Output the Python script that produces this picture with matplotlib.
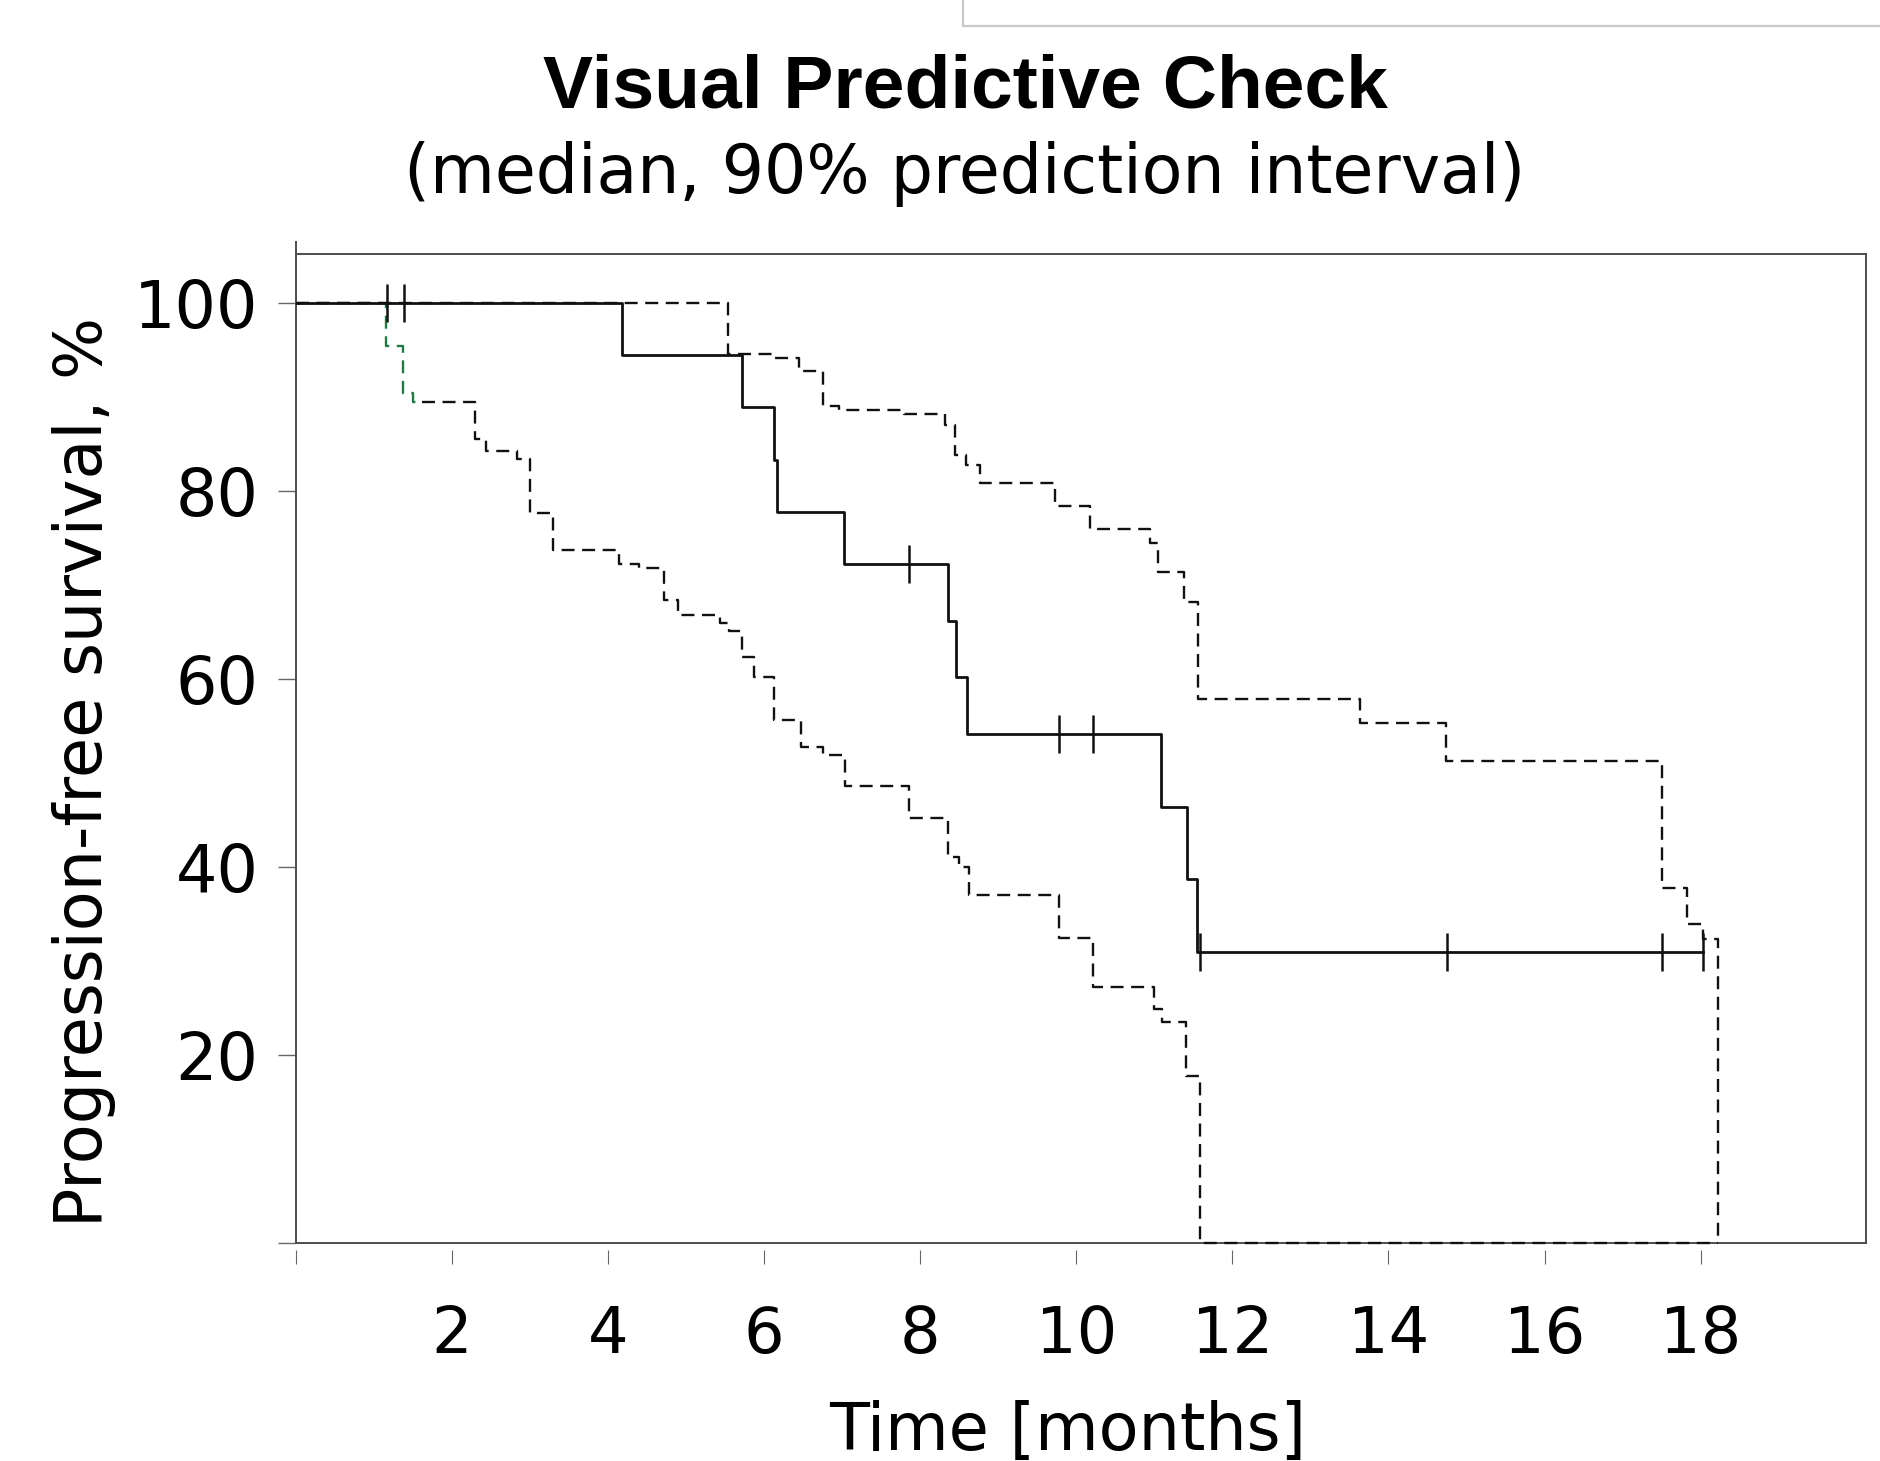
import numpy as np
import matplotlib.pyplot as plt
from matplotlib.patches import Rectangle

# observed median Kaplan-Meier curve (time in months, survival in %)
median_t = [0, 4.18, 5.71, 6.12, 6.17, 7.02, 8.35, 8.46, 8.60, 11.09, 11.42, 11.55, 18.03]
median_s = [100, 94.44, 88.89, 83.33, 77.78, 72.22, 66.20, 60.19, 54.17, 46.43, 38.69, 30.95, 30.95]
censor_t = [1.17, 1.38, 7.85, 9.78, 10.22, 11.58, 14.75, 17.51, 18.03]

# 90% prediction interval, lower bound
lower_t = [0, 1.15, 1.37, 1.50, 2.29, 2.44, 2.83, 3.00, 3.29, 4.14, 4.40, 4.72, 4.90,
           5.44, 5.55, 5.72, 5.87, 6.12, 6.47, 6.76, 7.03, 7.85, 8.35, 8.50, 8.62,
           9.78, 10.21, 10.99, 11.10, 11.41, 11.58, 18.22]
lower_s = [100, 95.4, 90.4, 89.5, 85.5, 84.2, 83.4, 77.7, 73.7, 72.2, 71.8, 68.4, 66.8,
           66.0, 65.1, 62.3, 60.2, 55.6, 52.8, 51.9, 48.6, 45.2, 41.1, 40.0, 37.0,
           32.4, 27.2, 24.9, 23.5, 17.8, 0, 0]

# 90% prediction interval, upper bound
upper_t = [0, 5.54, 6.14, 6.45, 6.75, 6.96, 7.79, 8.32, 8.45, 8.59, 8.77, 9.73, 10.17,
           10.94, 11.05, 11.38, 11.56, 13.64, 14.74, 17.50, 17.82, 18.03, 18.22]
upper_s = [100, 94.6, 94.1, 92.8, 89.0, 88.6, 88.2, 87.0, 83.8, 82.8, 80.8, 78.4, 75.9,
           74.5, 71.4, 68.2, 57.9, 55.3, 51.3, 37.8, 33.9, 32.3, 0]

green_end = 1.62   # first bit of the lower bound is drawn green in the original

x_ticks = np.arange(0, 19, 2)
y_ticks = np.arange(0, 101, 20)


def main() -> None:
    W, H = 1881, 1461
    fig = plt.figure(figsize=(W / 100, H / 100), dpi=100)
    ax = fig.add_axes([296 / W, 1 - 1243 / H, (1866 - 296) / W, (1243 - 254) / H])

    dash = (5.5, 3.2)
    lt = np.array(lower_t)
    ls = np.array(lower_s)
    g = lt <= green_end
    ax.step(np.append(lt[g], green_end), np.append(ls[g], ls[g][-1]), where='post',
            color='#1f7a45', lw=1.7, dashes=dash, zorder=2)
    ax.step(np.insert(lt[~g], 0, green_end), np.insert(ls[~g], 0, ls[g][-1]), where='post',
            color='#111111', lw=1.7, dashes=dash, zorder=2, clip_on=False)
    ax.step(upper_t, upper_s, where='post', color='#111111', lw=1.7, dashes=dash, zorder=2,
            clip_on=False)
    ax.step(median_t, median_s, where='post', color='#111111', lw=2.0, zorder=3)

    # censoring marks sit on the median curve
    idx = np.searchsorted(median_t, censor_t, side='right') - 1
    ax.plot(censor_t, np.array(median_s)[idx], ls='none', marker='|', ms=27, mew=1.8,
            color='#111111', zorder=4)

    ax.set_xlim(0, 20.12)
    ax.set_ylim(0, 105.2)
    ax.set_xticks(x_ticks)
    ax.set_xticklabels([''] + [str(v) for v in x_ticks[1:]])
    ax.set_yticks(y_ticks)
    ax.set_yticklabels([''] + [str(v) for v in y_ticks[1:]])

    spine_c = '#4d4d4d'
    for s in ax.spines.values():
        s.set_color(spine_c)
        s.set_linewidth(1.4)
    # x ticks are detached from the frame
    ax.spines['bottom'].set_position(('outward', 5))
    ax.spines['bottom'].set_visible(False)
    ax.plot([0, 1], [0, 0], transform=ax.transAxes, color=spine_c, lw=1.4, clip_on=False,
            zorder=1.5)
    ax.plot([0, 0], [1, 1.012], transform=ax.transAxes, color=spine_c, lw=1.4, clip_on=False)

    ax.tick_params(axis='x', direction='out', length=10, width=0.8, color='#666666',
                   pad=29, labelsize=46)
    ax.tick_params(axis='y', direction='out', length=13, width=1.0, color='#666666',
                   pad=14, labelsize=47)

    fig.text(965 / W, 1 - 108 / H, 'Visual Predictive Check', ha='center', va='baseline',
             fontsize=54, fontweight='bold', family='Liberation Sans')
    fig.text(965 / W, 1 - 193 / H, '(median, 90% prediction interval)', ha='center',
             va='baseline', fontsize=48)
    fig.text(84 / W, 1 - 772 / H, 'Progression-free survival, %', rotation=90,
             ha='center', va='center', fontsize=47)
    fig.text(1068 / W, 1 - 1450 / H, 'Time [months]', ha='center', va='baseline',
             fontsize=47)

    # edge of a neighbouring panel box peeking in at the top
    fig.patches.append(Rectangle((963 / W, 1 - 26 / H), 0.6, 0.2, transform=fig.transFigure,
                                 facecolor='white', edgecolor='#c8c8c8', lw=1.6))

    fig.savefig('out.png', dpi=100)
    plt.close(fig)


if __name__ == "__main__":
    main()
